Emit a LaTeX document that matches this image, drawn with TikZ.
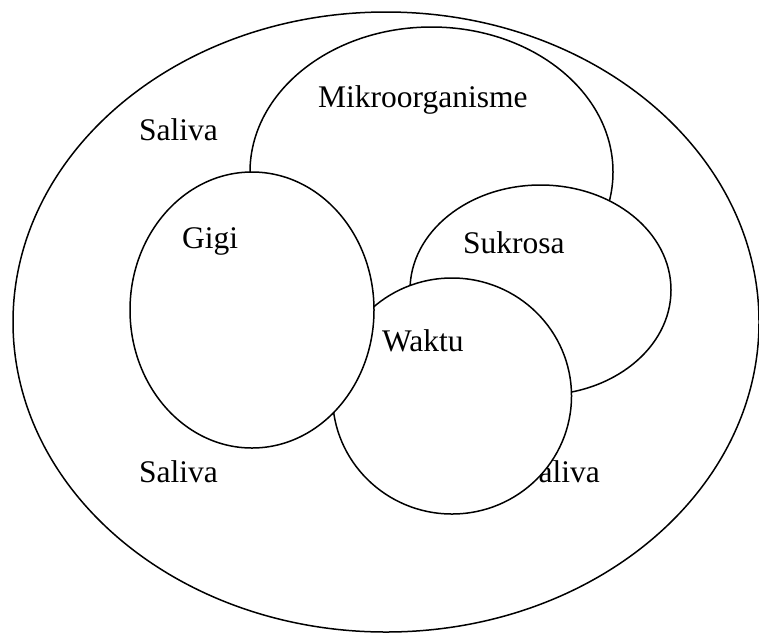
\documentclass[tikz,border=0pt]{standalone}
\usepackage{fontspec}
\setmainfont{Liberation Serif}
\usetikzlibrary{shapes.geometric}

\begin{document}
\begin{tikzpicture}[
    x=1pt, y=-1pt,
    set/.style={draw, ellipse, fill=white, line width=1.5pt,
                inner sep=0pt, outer sep=0pt},
    lbl/.style={anchor=base west, inner sep=0pt,
                font=\fontsize{31.5}{36}\selectfont}
  ]
  \useasboundingbox (0,0) rectangle (759,633);

  % outer set and its labels
  \node[set, minimum width=746pt, minimum height=620pt] (mulut) at (386,322) {};
  \node[lbl] (saliva1) at (139,140) {Saliva};
  \node[lbl] (saliva2) at (139,482) {Saliva};
  \node[lbl] (saliva3) at (521,482) {Saliva};

  % inner sets, back to front
  \node[set, minimum width=363pt, minimum height=290pt] (mikro) at (431.5,172) {};
  \node[set, minimum width=261pt, minimum height=210pt] (sukrosa) at (540.5,290) {};
  \node[set, minimum width=239pt, minimum height=236pt] (waktu) at (452,396) {};
  \node[set, minimum width=244pt, minimum height=276pt] (gigi) at (252,310) {};

  \node[lbl] (lblMikro) at (318,107) {Mikroorganisme};
  \node[lbl] (lblSukrosa) at (463,253) {Sukrosa};
  \node[lbl] (lblGigi) at (182,248) {Gigi};
  \node[lbl] (lblWaktu) at (382,351) {Waktu};
\end{tikzpicture}
\end{document}
